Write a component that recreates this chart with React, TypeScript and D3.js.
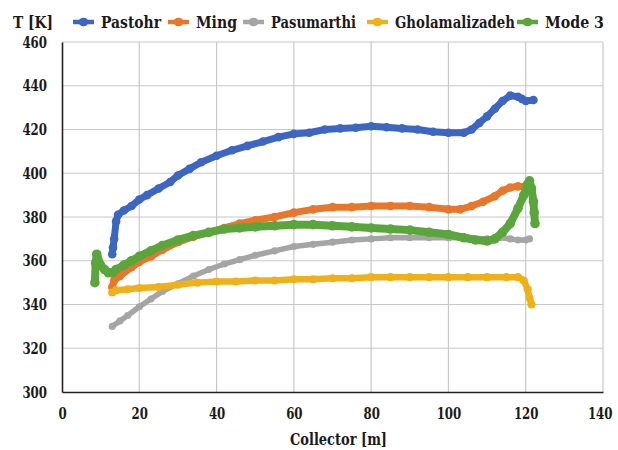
import { useEffect, useRef } from "react";
import { select, scaleLinear, line as d3Line, axisBottom, axisLeft } from "d3";

type Pt = [number, number];

const xTicks = [0, 20, 40, 60, 80, 100, 120, 140];
const yTicks = [300, 320, 340, 360, 380, 400, 420, 440, 460];

const pastohr: Pt[] = [
  [13, 363], [13.2, 366], [13.5, 370], [14, 378], [14.5, 381], [16, 383], [18, 385],
  [20, 388], [22, 390], [25, 393], [28, 396], [30, 399], [33, 402], [36, 405],
  [40, 408], [44, 410.5], [48, 412.5], [52, 414.5], [56, 416.5], [60, 418],
  [64, 418.5], [68, 420], [72, 420.5], [76, 420.8], [80, 421.5], [84, 421],
  [88, 420.5], [92, 420], [96, 419], [100, 418.5], [104, 418.5], [106, 420],
  [108, 423], [110, 426], [112, 429.5], [114, 433], [116, 435.5], [118, 435],
  [119, 434], [120, 433], [122, 433.5],
];

const ming: Pt[] = [
  [13, 348], [13.5, 351], [15, 353], [18, 357], [20, 359.5], [23, 362], [26, 365],
  [30, 368.5], [34, 371], [38, 373], [42, 375], [46, 377], [50, 378.5], [55, 380],
  [60, 382], [65, 383.5], [70, 384.5], [75, 384.5], [80, 385], [85, 385], [90, 385],
  [95, 384.5], [100, 383.5], [103, 383.5], [106, 385], [109, 387], [112, 389.5],
  [114, 392], [116, 393.5], [118, 394], [120, 394], [121, 394],
];

const pasumarthi: Pt[] = [
  [13, 330], [15, 332.5], [17, 335], [20, 339], [23, 342.5], [26, 346], [30, 349.5],
  [34, 353], [38, 356], [42, 358.5], [46, 360.5], [50, 362.5], [55, 364.5],
  [60, 366.5], [65, 367.5], [70, 368.5], [75, 369.5], [80, 370], [85, 370.5],
  [90, 370.5], [95, 370.5], [100, 370.5], [105, 370.5], [110, 370], [113, 370.5],
  [116, 370], [118, 369.5], [120, 369.5], [121, 370],
];

const gholamalizadeh: Pt[] = [
  [13, 345.5], [14, 346.5], [17, 347], [20, 347.5], [25, 348], [30, 349], [35, 350],
  [40, 350.5], [45, 350.5], [50, 351], [55, 351], [60, 351.5], [65, 351.5], [70, 352],
  [75, 352], [80, 352.5], [85, 352.5], [90, 352.5], [95, 352.5], [100, 352.5],
  [105, 352.5], [110, 352.5], [115, 352.5], [118, 352.5], [119.5, 351], [120.5, 347],
  [121, 343], [121.5, 340],
];

const mode3: Pt[] = [
  [8.5, 350], [8.7, 359], [9, 363], [10, 358], [11, 356], [12, 354.5], [13, 354.5],
  [14, 356], [16, 358], [18, 360], [20, 362], [23, 364.5], [26, 367], [30, 369.5],
  [34, 371.5], [38, 373], [42, 374.5], [46, 375], [50, 375.5], [55, 376], [60, 376.5],
  [65, 376.5], [70, 376], [75, 375.5], [80, 375], [85, 374.5], [90, 374], [95, 373],
  [100, 372], [104, 370.5], [107, 369.5], [110, 369], [112, 370], [114, 373],
  [116, 377], [118, 384], [119.5, 390], [120.5, 395], [121, 396.5], [121.5, 393],
  [122, 387], [122.2, 382], [122.4, 377],
];

const seriesNames = ["Pastohr", "Ming", "Pasumarthi", "Gholamalizadeh", "Mode 3"];
const seriesData = [pastohr, ming, pasumarthi, gholamalizadeh, mode3];
const seriesColors = ["#3c66c2", "#e8772c", "#a5a5a5", "#eeb11a", "#5aa53c"];
const seriesWidths = [7, 7, 5.5, 6.5, 8];
const legendX = [73, 168, 243, 367, 517];
const legendW = [60, 41, 85, 120, 59];

const W = 618;
const H = 450;
const FONT = "DejaVu Serif";

export default function App() {
  const svgRef = useRef<SVGSVGElement | null>(null);

  useEffect(() => {
    if (!svgRef.current) return;
    const svg = select(svgRef.current);
    svg.selectAll("*").remove();

    const x = scaleLinear().domain([0, 140]).range([62, 603]);
    const y = scaleLinear().domain([300, 460]).range([392, 42]);

    // grid
    const grid = svg.append("g").attr("class", "grid");
    grid
      .selectAll("line.hg")
      .data(yTicks.slice(1))
      .enter()
      .append("line")
      .attr("x1", x(0))
      .attr("x2", x(140))
      .attr("y1", (d) => y(d))
      .attr("y2", (d) => y(d))
      .attr("stroke", "#c8c8c8")
      .attr("stroke-width", 1.2);
    grid
      .selectAll("line.vg")
      .data(xTicks.slice(1))
      .enter()
      .append("line")
      .attr("x1", (d) => x(d))
      .attr("x2", (d) => x(d))
      .attr("y1", y(300))
      .attr("y2", y(460))
      .attr("stroke", "#c8c8c8")
      .attr("stroke-width", 1.2);

    // axes
    const xAxis = axisBottom(x).tickValues(xTicks).tickSize(0).tickPadding(16);
    const yAxis = axisLeft(y).tickValues(yTicks).tickSize(0).tickPadding(15);

    const gx = svg
      .append("g")
      .attr("transform", `translate(0,${y(300)})`)
      .call(xAxis);
    const gy = svg
      .append("g")
      .attr("transform", `translate(${x(0)},0)`)
      .call(yAxis);
    [gx, gy].forEach((g) => {
      g.attr("font-family", FONT).attr("font-size", 16).attr("font-weight", "bold");
      g.select(".domain").attr("stroke", "#222").attr("stroke-width", 1.6);
      g.selectAll<SVGTextElement, number>("text")
        .attr("fill", "#1a1a1a")
        .attr("textLength", (d) => String(d).length * 8.2)
        .attr("lengthAdjust", "spacingAndGlyphs");
    });
    // keep the last x label inside the picture
    gx.selectAll<SVGTextElement, number>("text")
      .filter((d) => d === 140)
      .attr("text-anchor", "end")
      .attr("x", 9);

    // series
    const lineGen = d3Line<Pt>()
      .x((d) => x(d[0]))
      .y((d) => y(d[1]));

    const layer = svg.append("g").attr("class", "series");
    seriesData.forEach((data, i) => {
      const g = layer.append("g");
      g.append("path")
        .attr("d", lineGen(data))
        .attr("fill", "none")
        .attr("stroke", seriesColors[i])
        .attr("stroke-width", seriesWidths[i])
        .attr("stroke-linejoin", "round")
        .attr("stroke-linecap", "round");
      g.selectAll("circle")
        .data(data)
        .enter()
        .append("circle")
        .attr("cx", (d) => x(d[0]))
        .attr("cy", (d) => y(d[1]))
        .attr("r", seriesWidths[i] / 2 + 0.8)
        .attr("fill", seriesColors[i]);
    });

    const textStyle = (sel: any, size: number, len: number) =>
      sel
        .attr("font-family", FONT)
        .attr("font-size", size)
        .attr("font-weight", "bold")
        .attr("fill", "#1a1a1a")
        .attr("textLength", len)
        .attr("lengthAdjust", "spacingAndGlyphs");

    // y title
    textStyle(svg.append("text").attr("x", 13).attr("y", 28).text("T [K]"), 17, 40);

    // legend
    const leg = svg.append("g").attr("class", "legend");
    seriesNames.forEach((name, i) => {
      const lx = legendX[i];
      leg
        .append("line")
        .attr("x1", lx)
        .attr("x2", lx + 21)
        .attr("y1", 22)
        .attr("y2", 22)
        .attr("stroke", seriesColors[i])
        .attr("stroke-width", 4.5);
      leg
        .append("ellipse")
        .attr("cx", lx + 10.5)
        .attr("cy", 22)
        .attr("rx", 5)
        .attr("ry", 4.2)
        .attr("fill", seriesColors[i]);
      textStyle(
        leg.append("text").attr("x", lx + 28).attr("y", 28).text(name),
        17,
        legendW[i]
      );
    });

    // x title
    textStyle(
      svg.append("text").attr("x", 290).attr("y", 445).text("Collector [m]"),
      17,
      97
    );
  }, []);

  return (
    <svg
      ref={svgRef}
      width={W}
      height={H}
      style={{ position: "absolute", left: 0, top: 0, background: "#fff" }}
    />
  );
}
